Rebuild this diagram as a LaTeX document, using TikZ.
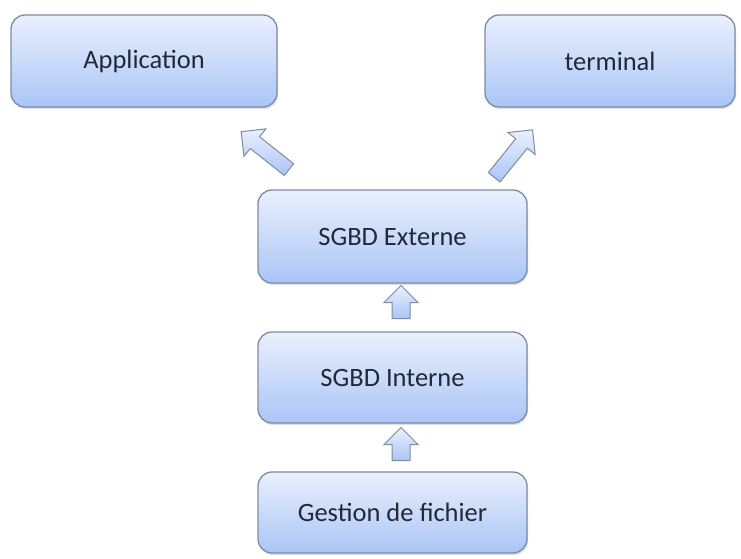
\documentclass[tikz,border=0pt]{standalone}
\usepackage{fontspec}
\setmainfont{Carlito}
\usetikzlibrary{shapes.arrows,shadows}
\definecolor{boxtop}{RGB}{234,240,253}
\definecolor{boxbot}{RGB}{170,197,246}
\definecolor{boxline}{RGB}{125,140,165}
\definecolor{txt}{RGB}{35,40,55}
\tikzset{
  blk/.style={rectangle, rounded corners=14pt, draw=boxline, line width=1.3pt,
    top color=boxtop, bottom color=boxbot, text=txt,
    font=\fontsize{26.5}{30}\selectfont,
    drop shadow={shadow xshift=1pt, shadow yshift=-2pt, opacity=0.25}},
  barrow/.style={single arrow, draw=boxline, line width=1pt,
    top color=boxtop, bottom color=boxbot,
    single arrow tip angle=90},
  varrow/.style={barrow, inner sep=8.5pt, single arrow head extend=8pt, minimum height=33pt, rotate=90},
  darrow/.style={barrow, inner sep=7pt, single arrow head extend=10pt, minimum height=61pt},
}
\begin{document}
\begin{tikzpicture}[x=1pt,y=-1pt]
\useasboundingbox[fill=white] (0,0) rectangle (741,559);
\node[blk, minimum width=266pt, minimum height=92pt] (app) at (144,61) {Application};
\node[blk, minimum width=250pt, minimum height=92pt] (term) at (610,61) {terminal};
\node[blk, minimum width=269pt, minimum height=93pt] (ext) at (392.5,236.5) {SGBD Externe};
\node[blk, minimum width=269pt, minimum height=91pt] (int) at (392.5,377.5) {SGBD Interne};
\node[blk, minimum width=269pt, minimum height=81pt] (ges) at (392.5,512.5) {Gestion de fichier};
% block arrows
\node[varrow] (a1) at (401,306.5) {};
\node[varrow] (a2) at (401,448.5) {};
\node[darrow, rotate=141.6] (a3) at (268,153) {};
\node[darrow, rotate=51] (a4) at (511,156.5) {};
\end{tikzpicture}
\end{document}
